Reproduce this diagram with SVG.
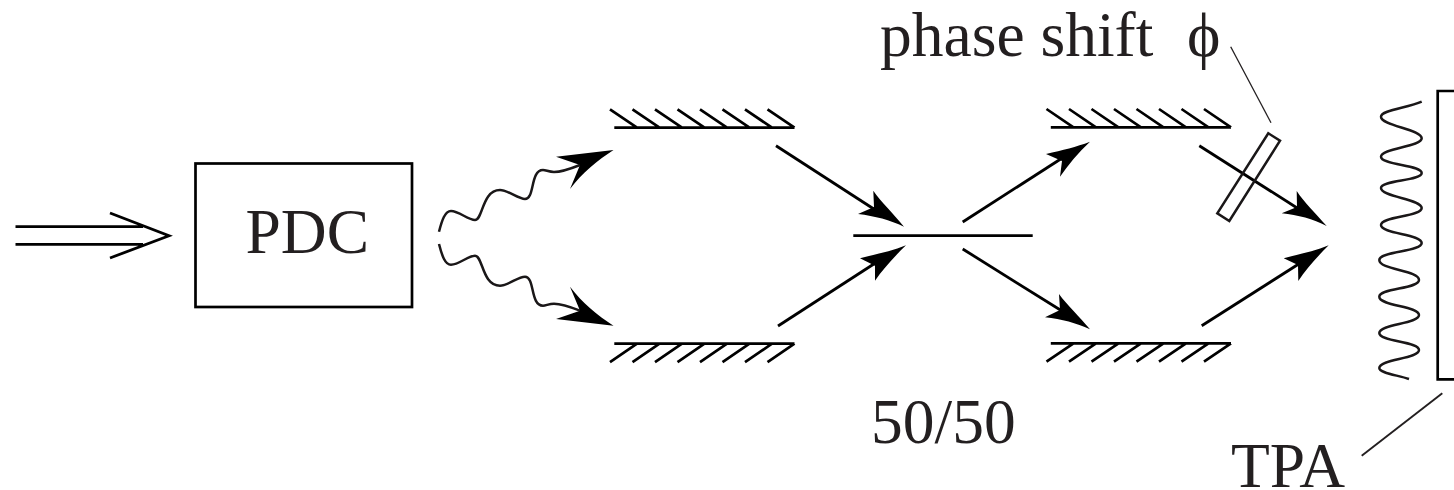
<svg xmlns="http://www.w3.org/2000/svg" width="1454" height="490" viewBox="0 0 1454 490">
<style>
.l{fill:none;stroke:#000;stroke-width:2.8}
.m{fill:none;stroke:#000;stroke-width:2.7}
.w{fill:none;stroke:#1a1718;stroke-width:2.5}
.thin{fill:none;stroke:#231f20;stroke-width:1.3}
.h{fill:#000;stroke:none}
text{font-family:"Liberation Serif","Times New Roman",serif;font-size:63.5px;fill:#231f20}
</style>
<defs>
<path id="hatchT" class="m" d="M0 0L27 18.4M22.5 0L49.5 18.4M45 0L72 18.4M67.5 0L94.5 18.4M90 0L117 18.4M112.5 0L139.5 18.4M135 0L162 18.4M157.5 0L184.5 18.4M4.3 18.4H184.5"/>
<path id="hatchB" class="m" d="M0 18.4L27 0M22.5 18.4L49.5 0M45 18.4L72 0M67.5 18.4L94.5 0M90 18.4L117 0M112.5 18.4L139.5 0M135 18.4L162 0M157.5 18.4L184.5 0M4.3 0H184.5"/>
</defs>
<g id="connectors">
<path class="l" d="M15.5 226.7H143M15.5 244.3H143M110 213L169 235.7L110 258"/>
<path class="w" d="M439 231.7C442 220 445 211 451 211C459 211 468 220 475 220C483 220 482 190 500 190C508 190 518 199 525 199C535 199 530 170 543 170C546 170 549 172 554 172C562 172 570 169 580 165"/>
<path class="h" d="M613.500 150L556 156.700L580 165L570 189C582 173 598 160 613.500 150Z"/>
<path class="w" d="M439 244C442 255.700 445 264.700 451 264.700C459 264.700 468 255.700 475 255.700C483 255.700 482 285.700 500 285.700C508 285.700 518 276.700 525 276.700C535 276.700 530 305.700 543 305.700C546 305.700 549 303.700 554 303.700C562 303.700 570 306.700 580 310.700"/>
<path class="h" d="M613.500 325.700L556 319L580 310.700L570 286.700C582 302.700 598 315.700 613.500 325.700Z"/>
<path class="l" d="M776 145.700L880 213"/>
<path class="h" d="M904 226.700C893 213 881 202 873.300 190.700L874 207L858 214C875 216 890 220 904 226.700Z"/>
<path class="l" d="M778 326L880 260"/>
<path class="h" d="M906 245.300C892 251 877 254 860 258.300L875 265.700L875 280.700C883 269 894 257 906 245.300Z"/>
<path class="l" d="M962.700 222L1070 153"/>
<path class="h" d="M1090 141.700C1076 147 1063 150 1046 154L1062 161L1060 176.700C1068 165 1078 153 1090 141.700Z"/>
<path class="l" d="M962.700 249L1070 316"/>
<path class="h" d="M1090 329.300C1079 316 1067 305 1059 294L1060 310L1045 317.300C1062 319 1076 323 1090 329.300Z"/>
<path class="l" d="M1199.300 145.700L1305 213"/>
<path class="h" d="M1326.700 226C1315 213 1304 202 1296.700 191L1297 207L1281.700 213.300C1298 215 1313 219 1326.700 226Z"/>
<path class="l" d="M1201.700 325.700L1305 260"/>
<path class="h" d="M1328.700 245.300C1315 251 1300 254 1283.700 258.300L1298 265L1298.300 281C1306 269 1317 257 1328.700 245.300Z"/>
<path class="thin" d="M1230.700 46.700L1271 122.700"/>
<path class="thin" style="stroke-width:1.9" d="M1361.700 455.700L1442.300 393.300"/>
</g>
<g id="pdc"><rect class="m" x="195.500" y="163.500" width="216.500" height="143.500"/><text x="245.500" y="253">PDC</text></g>
<g id="mirror-1"><use href="#hatchT" x="610" y="109.300"/></g>
<g id="mirror-2"><use href="#hatchB" x="610" y="343.700"/></g>
<g id="beamsplitter"><path class="m" d="M853.300 235.700H1032.700"/><text x="871" y="443">50/50</text></g>
<g id="mirror-3"><use href="#hatchT" x="1046.500" y="109"/></g>
<g id="mirror-4"><use href="#hatchB" x="1046.500" y="343.300"/></g>
<g id="phase-plate"><path class="w" d="M1268.300 133.300L1280 140.700L1229.300 221L1217.300 213.300Z"/></g>
<g id="phase-label"><text x="880" y="56">phase shift</text><text x="1187" y="56">ϕ</text></g>
<g id="tpa-wave"><path class="w" d="M1421.700 101.700C1408 108 1381 110 1381 116.700C1381 126 1421.700 129 1421.700 138.300C1421.700 147 1381 148 1381 156.700C1381 165 1421.700 165 1421.700 173C1421.700 181 1381 180 1381 188C1381 197 1421.700 199 1421.700 208C1421.700 217 1381 216 1381 225C1381 234 1421.700 234 1421.700 243C1421.700 252 1379.300 251 1379.300 260C1379.300 270 1419 270 1419 280C1419 289 1379.300 288 1379.300 296.700C1379.300 306 1419 306 1419 315C1419 324 1379.300 324 1379.300 333C1379.300 342 1419 341 1419 350C1419 359 1379.300 359 1379.300 368C1379.300 373 1397 375 1409 379"/></g>
<g id="detector"><path class="m" d="M1454 91H1437.700V379.300H1454"/></g>
<g id="tpa-label"><text x="1231" y="487">TPA</text></g>
</svg>
